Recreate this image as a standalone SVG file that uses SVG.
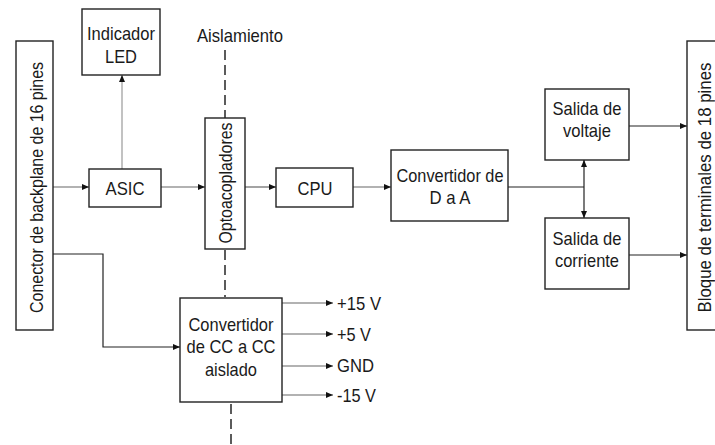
<svg xmlns="http://www.w3.org/2000/svg" width="715" height="445" viewBox="0 0 715 445">
<defs>
<marker id="ah" markerWidth="8" markerHeight="8" refX="7" refY="4" orient="auto" markerUnits="userSpaceOnUse">
<path d="M0,1 L7,4 L0,7 Z" fill="#111"/>
</marker>
<style>
.box{fill:#fff;stroke:#222;stroke-width:1.4}
.t{font-family:"Liberation Sans",Arial,sans-serif;font-size:19px;fill:#1a1a1a;text-anchor:middle}
.tl{font-family:"Liberation Sans",Arial,sans-serif;font-size:19px;fill:#1a1a1a}
.c{fill:none;stroke:#666;stroke-width:1.2}
.k{stroke:#222}
.g{stroke:#999}
.d{fill:none;stroke:#333;stroke-width:1.6;stroke-dasharray:10 5}
</style>
</defs>
<rect width="715" height="445" fill="#fff"/>
<g id="connectors">
<path class="c" d="M53,187 H89" marker-end="url(#ah)"/>
<path class="c" d="M161,187 H205" marker-end="url(#ah)"/>
<path class="c" d="M245,187 H276" marker-end="url(#ah)"/>
<path class="c" d="M353,187 H391" marker-end="url(#ah)"/>
<path class="c g" d="M122,169 V75" marker-end="url(#ah)"/>
<path class="c k" d="M508,187 H584"/>
<path class="c k" d="M584,187 V160" marker-end="url(#ah)"/>
<path class="c k" d="M584,187 V218" marker-end="url(#ah)"/>
<path class="c k" d="M629,126 H687" marker-end="url(#ah)"/>
<path class="c k" d="M629,255 H687" marker-end="url(#ah)"/>
<path class="c k" d="M53,254 H103 V347 H180" marker-end="url(#ah)"/>
<path class="c" d="M282,303 H333" marker-end="url(#ah)"/>
<path class="c" d="M282,334 H333" marker-end="url(#ah)"/>
<path class="c" d="M282,366 H333" marker-end="url(#ah)"/>
<path class="c" d="M282,395 H333" marker-end="url(#ah)"/>
<path class="d" d="M225,50 V118"/>
<path class="d" d="M225,250 V297"/>
<path class="d" d="M231,404 V445"/>
</g>
<g id="aislamiento">
<text class="t" x="240" y="42" textLength="86" lengthAdjust="spacingAndGlyphs">Aislamiento</text>
</g>
<g id="conector">
<rect class="box" x="16" y="41" width="37" height="289"/>
<text class="t" transform="translate(43,187.5) rotate(-90)" textLength="251" lengthAdjust="spacingAndGlyphs">Conector de backplane de 16 pines</text>
</g>
<g id="led">
<rect class="box" x="82" y="9" width="78" height="66"/>
<text class="t" x="121" y="40" textLength="68" lengthAdjust="spacingAndGlyphs">Indicador</text>
<text class="t" x="121" y="63" textLength="32" lengthAdjust="spacingAndGlyphs">LED</text>
</g>
<g id="asic">
<rect class="box" x="89" y="169" width="72" height="38"/>
<text class="t" x="125" y="195" textLength="39" lengthAdjust="spacingAndGlyphs">ASIC</text>
</g>
<g id="opto">
<rect class="box" x="205" y="118" width="40" height="131"/>
<text class="t" transform="translate(232,183) rotate(-90)" textLength="121" lengthAdjust="spacingAndGlyphs">Optoacopladores</text>
</g>
<g id="cpu">
<rect class="box" x="276" y="168" width="77" height="39"/>
<text class="t" x="315" y="195" textLength="35" lengthAdjust="spacingAndGlyphs">CPU</text>
</g>
<g id="dac">
<rect class="box" x="391" y="150" width="117" height="71"/>
<text class="t" x="450" y="182" textLength="107" lengthAdjust="spacingAndGlyphs">Convertidor de</text>
<text class="t" x="450" y="204" textLength="41" lengthAdjust="spacingAndGlyphs">D a A</text>
</g>
<g id="salida-voltaje">
<rect class="box" x="545" y="89" width="84" height="71"/>
<text class="t" x="587" y="115" textLength="69" lengthAdjust="spacingAndGlyphs">Salida de</text>
<text class="t" x="587" y="137" textLength="48" lengthAdjust="spacingAndGlyphs">voltaje</text>
</g>
<g id="salida-corriente">
<rect class="box" x="545" y="218" width="84" height="71"/>
<text class="t" x="587" y="245" textLength="69" lengthAdjust="spacingAndGlyphs">Salida de</text>
<text class="t" x="587" y="267" textLength="64" lengthAdjust="spacingAndGlyphs">corriente</text>
</g>
<g id="bloque">
<rect class="box" x="687" y="41" width="40" height="289"/>
<text class="t" transform="translate(711,187.5) rotate(-90)" textLength="250" lengthAdjust="spacingAndGlyphs">Bloque de terminales de 18 pines</text>
</g>
<g id="dcdc">
<rect class="box" x="180" y="298" width="102" height="104"/>
<text class="t" x="231" y="331" textLength="85" lengthAdjust="spacingAndGlyphs">Convertidor</text>
<text class="t" x="231" y="353" textLength="89" lengthAdjust="spacingAndGlyphs">de CC a CC</text>
<text class="t" x="231" y="376" textLength="52" lengthAdjust="spacingAndGlyphs">aislado</text>
</g>
<g id="salidas">
<text class="tl" x="337" y="310" textLength="44" lengthAdjust="spacingAndGlyphs">+15 V</text>
<text class="tl" x="337" y="341" textLength="34" lengthAdjust="spacingAndGlyphs">+5 V</text>
<text class="tl" x="337" y="372" textLength="37" lengthAdjust="spacingAndGlyphs">GND</text>
<text class="tl" x="337" y="402" textLength="39" lengthAdjust="spacingAndGlyphs">-15 V</text>
</g>
</svg>
